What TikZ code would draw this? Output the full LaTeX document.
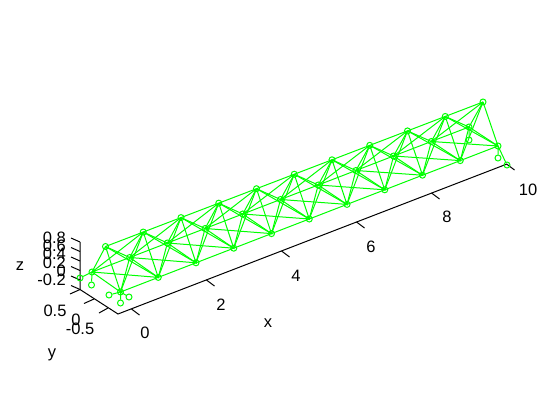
\documentclass[tikz,border=0pt]{standalone}
\usepackage{fontspec}
\setmainfont{Liberation Sans}
\begin{document}
\begin{tikzpicture}[x=1pt,y=-1pt,
  member/.style={draw=green,line width=1pt},
  jointmark/.style={circle,draw=green,line width=1pt,minimum size=6pt,inner sep=0pt,fill=none},
  axisline/.style={draw=black,line width=1pt},
  lbl/.style={font=\fontsize{16.5}{16.5}\selectfont,inner sep=0pt,text=black}]
\definecolor{green}{rgb}{0,1,0}
\useasboundingbox (0,0) rectangle (560,420);
\fill[white] (0,0) rectangle (560,420);
% axes
\coordinate (corner) at (118,314);
\coordinate (zbase) at (80,289.5);
\coordinate (ztop) at (80,242);
\coordinate (xend) at (507,164);
\draw[axisline] (ztop) -- (zbase) -- (corner) -- (xend);
% x ticks
\foreach \k in {0,...,5}{
  \pgfmathsetmacro{\tx}{131.5+75*\k}
  \pgfmathsetmacro{\ty}{309-29*\k}
  \coordinate (xa\k) at (\tx,\ty);
  \coordinate (xb\k) at (\tx+8,\ty+6);
  \draw[axisline] (xa\k) -- (xb\k);
}
% z ticks
\foreach \k in {0,...,5}{
  \pgfmathsetmacro{\ty}{242+9.5*\k}
  \coordinate (za\k) at (80,\ty);
  \coordinate (zb\k) at (71,\ty-4);
  \draw[axisline] (za\k) -- (zb\k);
}
% y ticks
\coordinate (ya0) at (80,289.5); \coordinate (yb0) at (70,294);
\coordinate (ya1) at (94,299);   \coordinate (yb1) at (84,303.5);
\coordinate (ya2) at (108,308);  \coordinate (yb2) at (99,313);
\foreach \k in {0,1,2}{\draw[axisline] (ya\k) -- (yb\k);}
% labels
\node[lbl] (lx0) at (145,333) {0};
\node[lbl] (lx2) at (221,305) {2};
\node[lbl] (lx4) at (296,276) {4};
\node[lbl] (lx6) at (371,247) {6};
\node[lbl] (lx8) at (447,217) {8};
\node[lbl] (lx10) at (528,190) {10};
\node[lbl] (xl) at (268,323) {x};
\node[lbl] (yl) at (52,355) {y};
\node[lbl] (zl) at (20,266) {z};
\node[lbl] (ly1) at (55,311) {0.5};
\node[lbl] (ly2) at (76,320) {0};
\node[lbl] (ly3) at (80,329) {-0.5};
\node[lbl,anchor=east] (lz1) at (66,238) {0.8};
\node[lbl,anchor=east] (lz2) at (66,246) {0.6};
\node[lbl,anchor=east] (lz3) at (66,254) {0.4};
\node[lbl,anchor=east] (lz4) at (66,263) {0.2};
\node[lbl,anchor=east] (lz5) at (66,271) {0};
\node[lbl,anchor=east] (lz6) at (66,280) {-0.2};
% joints
\foreach \k in {0,...,10}{
  \pgfmathsetmacro{\tx}{105.5+37.75*\k}\pgfmathsetmacro{\ty}{246.5-14.45*\k}
  \pgfmathsetmacro{\bx}{92+37.7*\k}\pgfmathsetmacro{\by}{272-14.5*\k}
  \pgfmathsetmacro{\fx}{120.5+37.75*\k}\pgfmathsetmacro{\fy}{292-14.6*\k}
  \node[jointmark] (T\k) at (\tx,\ty) {};
  \node[jointmark] (B\k) at (\bx,\by) {};
  \node[jointmark] (F\k) at (\fx,\fy) {};
  \draw[member] (T\k.center) -- (B\k.center) -- (F\k.center) -- (T\k.center);
}
% bays
\foreach \k [evaluate=\k as \n using int(\k+1)] in {0,...,9}{
  \draw[member] (T\k.center) -- (T\n.center);
  \draw[member] (B\k.center) -- (B\n.center);
  \draw[member] (F\k.center) -- (F\n.center);
  \draw[member] (T\k.center) -- (F\n.center);
  \draw[member] (T\n.center) -- (F\k.center);
  \draw[member] (T\k.center) -- (B\n.center);
  \draw[member] (T\n.center) -- (B\k.center);
  \draw[member] (F\k.center) -- (B\n.center);
  \draw[member] (F\n.center) -- (B\k.center);
}
% supports
\node[jointmark] (s1) at (80,278) {};
\node[jointmark] (s2) at (91.5,285) {};
\node[jointmark] (s3) at (109,295) {};
\node[jointmark] (s4) at (129,297) {};
\node[jointmark] (s5) at (120.5,303) {};
\node[jointmark] (s6) at (469,140) {};
\node[jointmark] (s7) at (498,158) {};
\node[jointmark] (s8) at (507,165) {};
\draw[member] (B0.center) -- (s1) (B0.center) -- (s2);
\draw[member] (F0.center) -- (s3) (F0.center) -- (s4) (F0.center) -- (s5);
\draw[member] (B10.center) -- (s6);
\draw[member] (F10.center) -- (s7) (F10.center) -- (s8);
\end{tikzpicture}
\end{document}
